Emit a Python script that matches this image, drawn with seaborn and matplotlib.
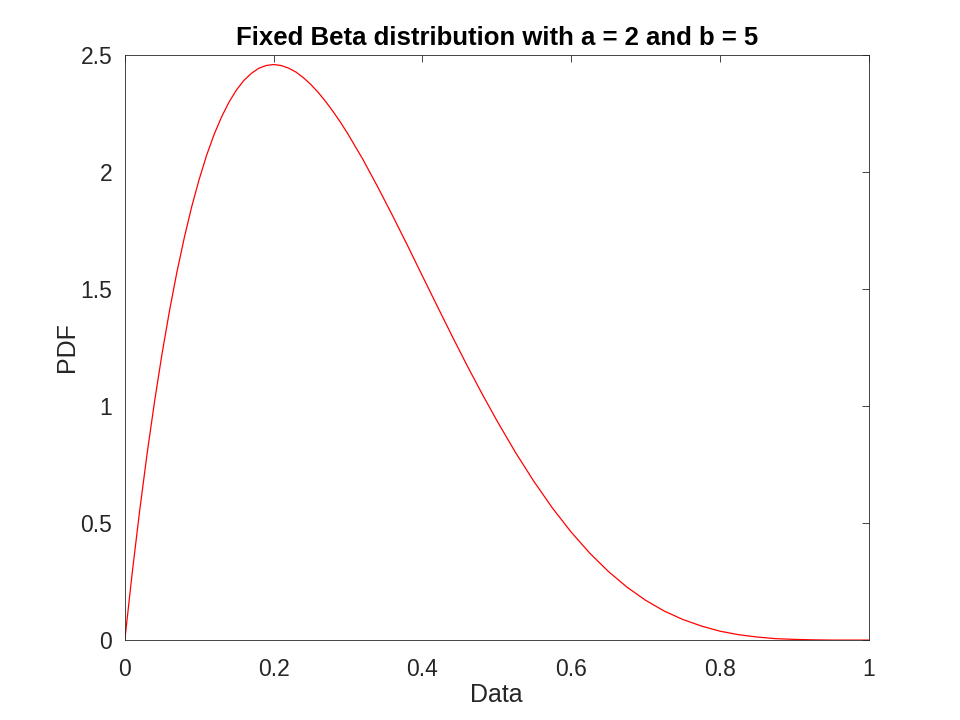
import numpy as np
import pandas as pd
import matplotlib
matplotlib.use('Agg')
import matplotlib.pyplot as plt
import matplotlib.ticker as mticker
import seaborn as sns

# values (denser near the peak)
data_x = [0.0, 0.01, 0.02, 0.03, 0.04, 0.05, 0.06, 0.07, 0.08, 0.09,
          0.10, 0.11, 0.12, 0.13, 0.14, 0.15, 0.16, 0.17, 0.18, 0.19,
          0.20, 0.21, 0.22, 0.23, 0.24, 0.25, 0.26, 0.27, 0.28, 0.29,
          0.30, 0.32, 0.34, 0.36, 0.38, 0.40, 0.42, 0.44, 0.46, 0.48,
          0.50, 0.525, 0.55, 0.575, 0.6, 0.625, 0.65, 0.675, 0.7, 0.725,
          0.75, 0.775, 0.8, 0.825, 0.85, 0.875, 0.9, 0.925, 0.95, 0.975, 1.0]
pdf_y = [0.0, 0.288, 0.553, 0.797, 1.019, 1.222, 1.405, 1.571, 1.719, 1.852,
         1.968, 2.071, 2.159, 2.234, 2.297, 2.349, 2.390, 2.420, 2.442, 2.454,
         2.458, 2.454, 2.443, 2.426, 2.402, 2.373, 2.339, 2.300, 2.257, 2.211,
         2.161, 2.053, 1.935, 1.812, 1.685, 1.555, 1.426, 1.298, 1.173, 1.053,
         0.938, 0.802, 0.677, 0.563, 0.461, 0.371, 0.293, 0.226, 0.170, 0.124,
         0.088, 0.060, 0.038, 0.023, 0.013, 0.006, 0.003, 0.001, 0.0, 0.0, 0.0]

x_ticks = [0, 0.2, 0.4, 0.6, 0.8, 1]
y_ticks = [0, 0.5, 1, 1.5, 2, 2.5]

df = pd.DataFrame({'Data': data_x, 'PDF': pdf_y})

sns.set_style('white')
plt.rcParams['font.family'] = ['Liberation Sans', 'DejaVu Sans']

fig = plt.figure(figsize=(9.6, 7.2), dpi=100)
ax = fig.add_axes([0.13, 0.111, 0.775, 0.813])

sns.lineplot(data=df, x='Data', y='PDF', color='red', linewidth=0.9, ax=ax)

ax.set_xlim(0, 1)
ax.set_ylim(0, 2.5)
ax.set_xticks(x_ticks)
ax.set_yticks(y_ticks)
ax.xaxis.set_major_formatter(mticker.FormatStrFormatter('%g'))
ax.yaxis.set_major_formatter(mticker.FormatStrFormatter('%g'))
ax.tick_params(direction='in', length=5, width=0.6, top=True, right=True,
               labelsize=16.5, colors='#262626')
ax.tick_params(axis='x', pad=13)
ax.tick_params(axis='y', pad=9)
for s in ax.spines.values():
    s.set_linewidth(0.6)
    s.set_color('#262626')

ax.set_xlabel('Data', fontsize=18, color='#262626', labelpad=1)
ax.set_ylabel('PDF', fontsize=18, color='#262626', labelpad=1)
ax.set_title('Fixed Beta distribution with a = 2 and b = 5', fontsize=18.5,
             fontweight='bold', color='black', pad=7)

fig.savefig('out.png', dpi=100)
